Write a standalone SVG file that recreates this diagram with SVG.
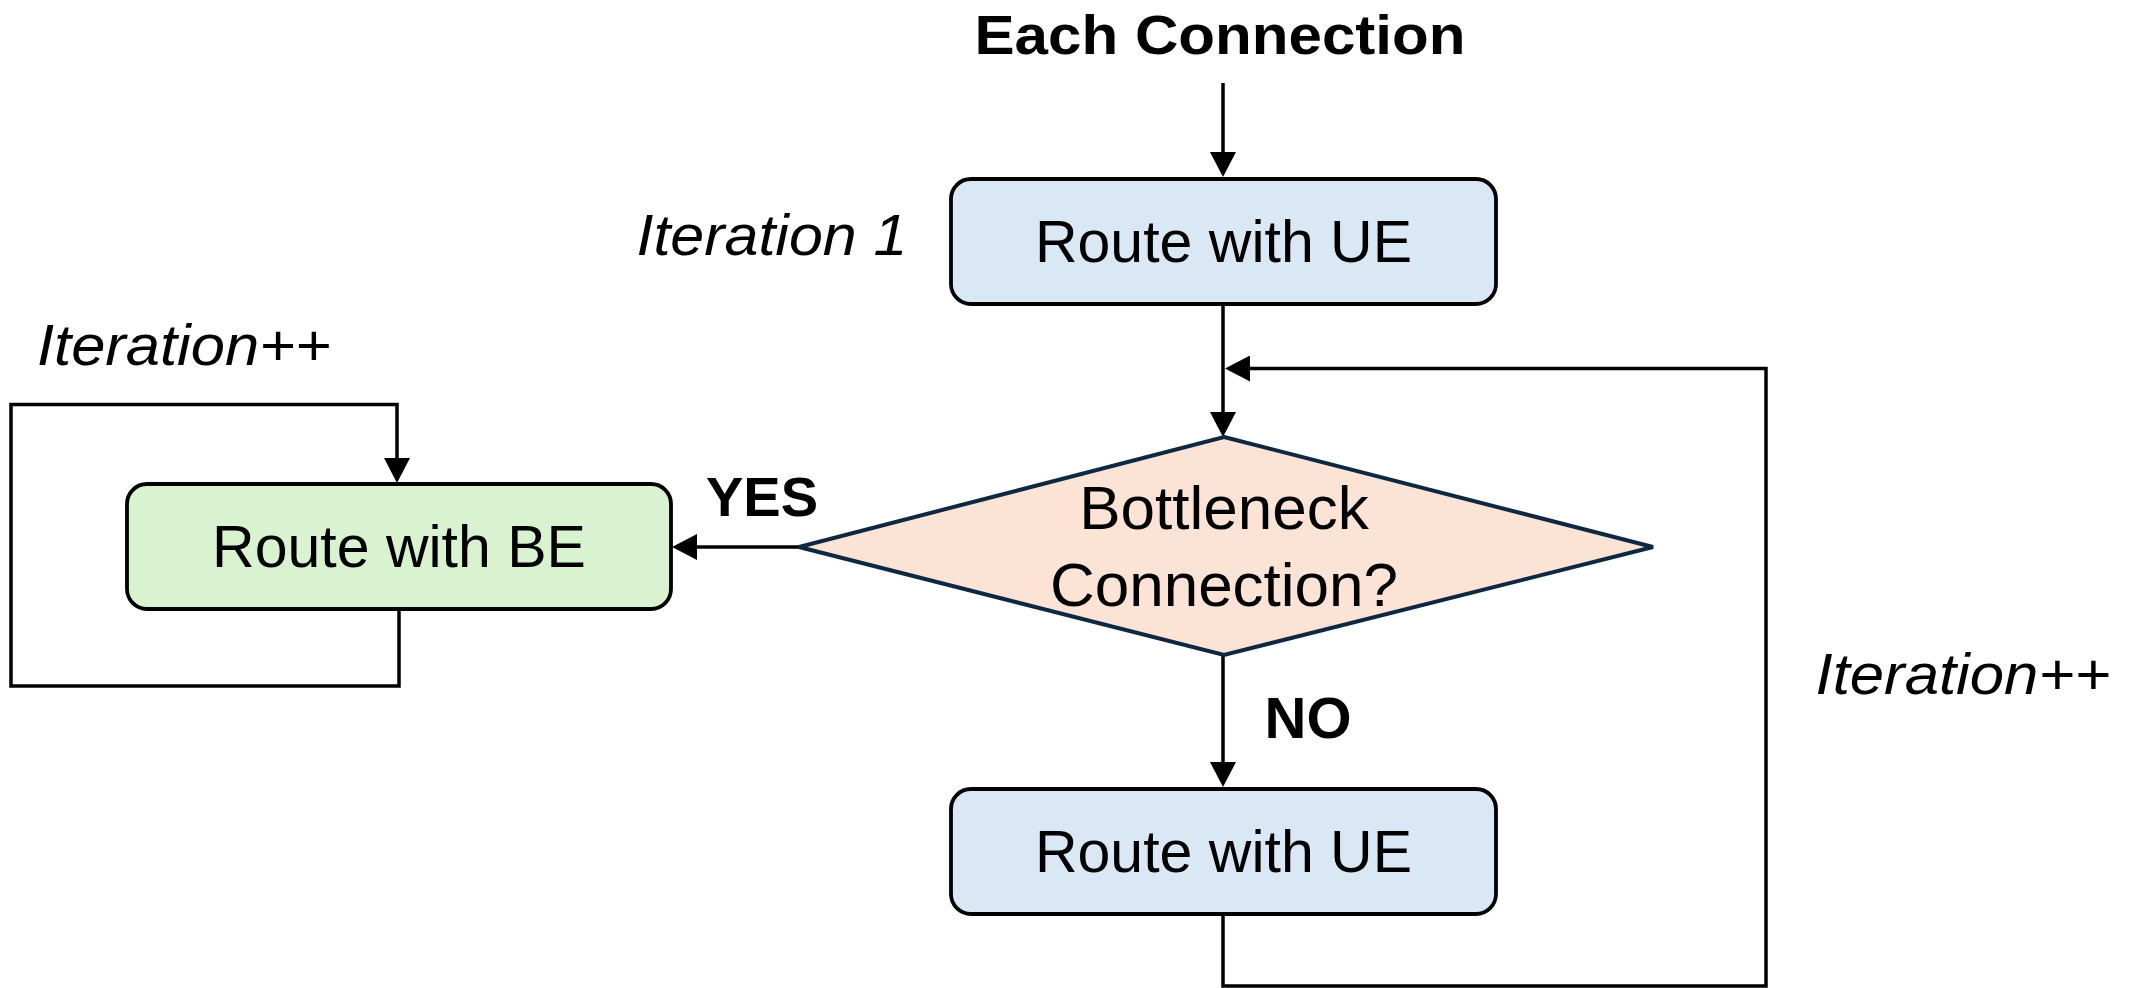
<svg xmlns="http://www.w3.org/2000/svg" width="2138" height="988" viewBox="0 0 2138 988">
  <style>
    .box { stroke: #000; stroke-width: 3.8; }
    .ue { fill: #DAE8F6; }
    .be { fill: #D9F2D0; }
    .dec { fill: #FBE3D6; stroke: #0E2841; stroke-width: 4; }
    .wire { fill: none; stroke: #000; stroke-width: 3.5; }
    .lbl { font-family: "Liberation Sans", Arial, sans-serif; fill: #000; text-anchor: middle; }
    .node { font-size: 59px; }
    .cond { font-size: 62px; }
    .bold { font-size: 56px; font-weight: bold; }
    .it { font-size: 57px; font-style: italic; }
  </style>
  <defs>
    <marker id="arrow" markerUnits="userSpaceOnUse" markerWidth="26" markerHeight="26" refX="0" refY="13" orient="auto">
      <path d="M0,0 L25,13 L0,26 z" fill="#000"/>
    </marker>
  </defs>

  <rect width="2138" height="988" fill="#fff"/>

  <!-- connectors -->
  <g id="connectors">
    <path class="wire" d="M1223 83 V152" marker-end="url(#arrow)"/>
    <path class="wire" d="M1223 304 V412" marker-end="url(#arrow)"/>
    <path class="wire" d="M1223 655 V762" marker-end="url(#arrow)"/>
    <path class="wire" d="M799 547 H697" marker-end="url(#arrow)"/>
    <path class="wire" d="M1223 914 V986 H1766 V368.5 H1250" marker-end="url(#arrow)"/>
    <path class="wire" d="M399 609 V686 H11 V404.5 H397 V458" marker-end="url(#arrow)"/>
  </g>

  <!-- free labels -->
  <g id="labels">
    <text class="lbl bold" x="1220" y="54" textLength="491" lengthAdjust="spacingAndGlyphs">Each Connection</text>
    <text class="lbl it" x="772" y="255" textLength="271" lengthAdjust="spacingAndGlyphs">Iteration 1</text>
    <text class="lbl it" x="184" y="365" textLength="294" lengthAdjust="spacingAndGlyphs">Iteration++</text>
    <text class="lbl it" x="1963" y="694" textLength="295" lengthAdjust="spacingAndGlyphs">Iteration++</text>
    <text class="lbl bold" x="762" y="516">YES</text>
    <text class="lbl bold" x="1308" y="738" style="font-size:58px">NO</text>
  </g>

  <g id="route-ue-first">
    <rect class="box ue" x="951" y="179" width="545" height="125" rx="20"/>
    <text class="lbl node" x="1223.5" y="262">Route with UE</text>
  </g>

  <g id="bottleneck-check">
    <polygon class="dec" points="1224,437 1653,547 1224,655 799,547"/>
    <text class="lbl cond" x="1224" y="529">Bottleneck</text>
    <text class="lbl cond" x="1224" y="606">Connection?</text>
  </g>

  <g id="route-be">
    <rect class="box be" x="127" y="484" width="544" height="125" rx="20"/>
    <text class="lbl node" x="399" y="567">Route with BE</text>
  </g>

  <g id="route-ue-next">
    <rect class="box ue" x="951" y="789" width="545" height="125" rx="20"/>
    <text class="lbl node" x="1223.5" y="872">Route with UE</text>
  </g>
</svg>
